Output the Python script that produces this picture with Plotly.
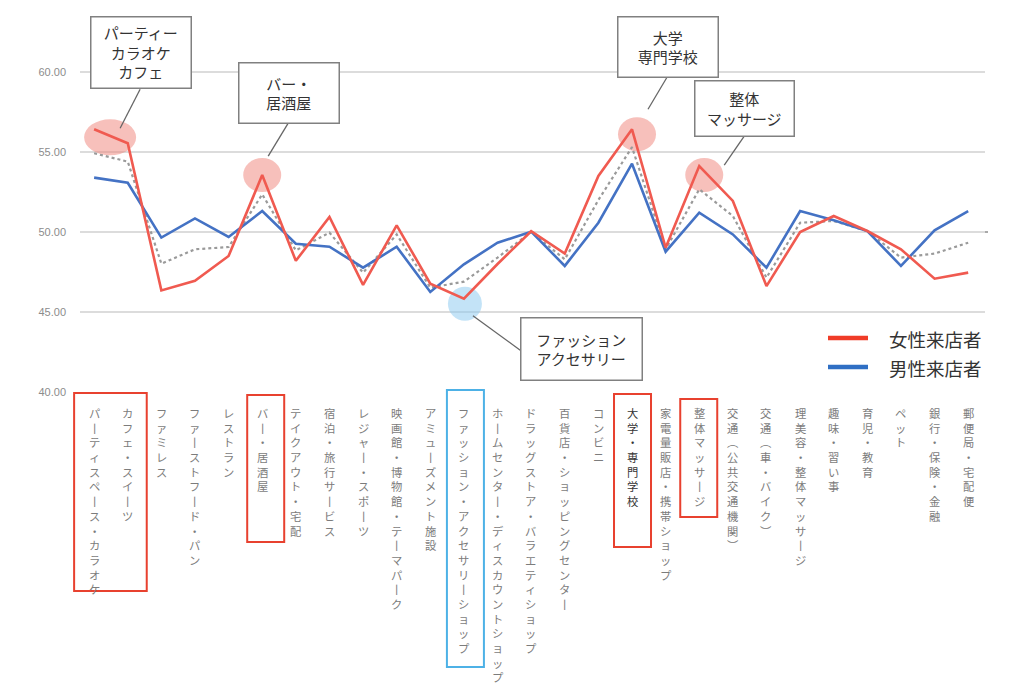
import plotly.graph_objects as go

# ---------------- data ----------------
categories = [
    "パーティスペース・カラオケ", "カフェ・スイーツ", "ファミレス", "ファーストフード・パン",
    "レストラン", "バー・居酒屋", "テイクアウト・宅配", "宿泊・旅行サービス",
    "レジャー・スポーツ", "映画館・博物館・テーマパーク", "アミューズメント施設",
    "ファッション・アクセサリーショップ", "ホームセンター・ディスカウントショップ",
    "ドラッグストア・バラエティショップ", "百貨店・ショッピングセンター", "コンビニ",
    "大学・専門学校", "家電量販店・携帯ショップ", "整体マッサージ", "交通（公共交通機関）",
    "交通（車・バイク）", "理美容・整体マッサージ", "趣味・習い事", "育児・教育",
    "ペット", "銀行・保険・金融", "郵便局・宅配便",
]
female = [56.42, 55.55, 46.35, 46.95, 48.50, 53.56, 48.20, 50.94, 46.70, 50.42,
          46.77, 45.83, 48.00, 50.05, 48.65, 53.50, 56.42, 49.02, 54.12, 51.94,
          46.62, 50.00, 51.00, 50.06, 48.92, 47.08, 47.46]
male = [53.40, 53.08, 49.65, 50.85, 49.69, 51.31, 49.27, 49.08, 47.77, 49.08,
        46.25, 47.98, 49.33, 50.02, 47.88, 50.58, 54.27, 48.77, 51.21, 49.85,
        47.77, 51.31, 50.73, 50.06, 47.88, 50.10, 51.31]
overall = [54.92, 54.40, 48.02, 48.92, 49.06, 52.35, 48.85, 49.96, 47.46, 49.85,
           46.52, 46.90, 48.40, 50.00, 48.29, 52.00, 55.30, 48.92, 52.67, 51.00,
           47.15, 50.58, 50.69, 50.06, 48.40, 48.65, 49.33]
y_ticks = [40, 45, 50, 55, 60]
series_names = ["女性来店者", "男性来店者"]

callouts = [
    {"idx": 0, "text": "パーティー<br>カラオケ<br>カフェ"},
    {"idx": 5, "text": "バー・<br>居酒屋"},
    {"idx": 16, "text": "大学<br>専門学校"},
    {"idx": 18, "text": "整体<br>マッサージ"},
    {"idx": 11, "text": "ファッション<br>アクセサリー"},
]

# ---------------- layout constants ----------------
W, H = 1024, 693
ML, MR, MT, MB = 80, 39, 8, 301
PW, PH = W - ML - MR, H - MT - MB
XMIN, XMAX = -0.42, 26.5
YMIN, YMAX = 40, 64

RED = "#F05A50"
BLUE = "#4472C4"
FONT_JP = "Noto Sans CJK JP"

x = list(range(len(categories)))


def xp(i, dx=0.0):
    return (i - XMIN) / (XMAX - XMIN) + dx / PW


def yp_px(py):
    return (MT + PH - py) / PH


fig = go.Figure()
fig.add_trace(go.Scatter(x=x, y=overall, mode="lines", name="全体",
                         line=dict(color="#9a9a9a", width=2.2, dash="dot"),
                         showlegend=False))
fig.add_trace(go.Scatter(x=x, y=male, mode="lines", name=series_names[1],
                         line=dict(color=BLUE, width=2.6), showlegend=False))
fig.add_trace(go.Scatter(x=x, y=female, mode="lines", name=series_names[0],
                         line=dict(color=RED, width=2.6), showlegend=False))

shapes = []
annotations = []

# 50 reference line
shapes.append(dict(type="line", xref="paper", yref="y", x0=0, x1=(988 - ML) / PW,
                   y0=50, y1=50, line=dict(color="#8c8c8c", width=1.6), layer="between"))

# highlight ellipses (pixel offsets relative to data points)
ell_specs = [
    (0, 16, -8, 26, 18, "rgba(240,130,120,0.5)"),
    (5, 0, 0, 19, 17, "rgba(240,130,120,0.5)"),
    (16, 5, -5, 19, 17, "rgba(240,130,120,0.5)"),
    (18, 5, -9, 19, 17, "rgba(240,130,120,0.5)"),
    (11, 1, -5, 17, 17, "rgba(135,200,240,0.5)"),
]
for idx, dx, dy, rx, ry, col in ell_specs:
    shapes.append(dict(type="circle", xref="x", yref="y",
                       xsizemode="pixel", ysizemode="pixel",
                       xanchor=idx, yanchor=female[idx],
                       x0=dx - rx, x1=dx + rx, y0=dy - ry, y1=dy + ry,
                       fillcolor=col, line=dict(width=0), layer="between"))

# callout boxes: (xshift, yshift, width, height) and connector (x0,y0,x1,y1) pixel offsets
box_specs = [
    (47, 77, 100, 71, (46, 40, 26, 1)),
    (27, 82, 100, 60, (26, 52, 6, 19)),
    (36, 82, 100, 60, (35, 52, 16, 20)),
    (45.5, 57.5, 99, 55, (45, 30, 25, 1)),
    (117.5, -50.3, 121, 62, (9, -17, 57, -52)),
]
BW, BP = 1.5, 1
for c, (xs, ys, bw, bh, con) in zip(callouts, box_specs):
    idx = c["idx"]
    shapes.append(dict(type="line", xref="x", yref="y",
                       xsizemode="pixel", ysizemode="pixel",
                       xanchor=idx, yanchor=female[idx],
                       x0=con[0], y0=con[1], x1=con[2], y1=con[3],
                       line=dict(color="#666666", width=1.3), layer="above"))
    annotations.append(dict(x=idx, y=female[idx], xref="x", yref="y",
                            xshift=xs, yshift=ys, showarrow=False,
                            xanchor="center", yanchor="middle",
                            text=c["text"], align="center",
                            width=bw - 2 * BP - BW, height=bh - 2 * BP - BW,
                            font=dict(family=FONT_JP, size=15, color="#333333"),
                            bgcolor="white", bordercolor="#808080",
                            borderwidth=BW, borderpad=BP))

# vertical category labels (one character per line)
VERT = {"ー": "丨", "（": "︵", "）": "︶"}
LAB_SIZE = 11.3
for i, lab in enumerate(categories):
    dark = (lab == "大学・専門学校")
    txt = "<br>".join(VERT.get(ch, ch) for ch in lab)
    annotations.append(dict(
        x=i, xref="x", y=0, yref="paper", xanchor="center", yanchor="top",
        yshift=-11, text=txt, showarrow=False, align="center",
        font=dict(family=FONT_JP, size=LAB_SIZE,
                  color="#333333" if dark else "#7c7c7c")))

# rectangles around highlighted category labels
rect_specs = [
    (0, 1, -20, 19, 393, 591, "#E8412F"),
    (5, 5, -15, 22, 395, 542, "#E8412F"),
    (11, 11, -17, 20, 390, 667, "#4DB1E6"),
    (16, 16, -18, 19, 394, 547, "#E8412F"),
    (18, 18, -19, 18, 399, 517, "#E8412F"),
]
for a, b, lpad, rpad, top, bot, col in rect_specs:
    shapes.append(dict(type="rect", xref="paper", yref="paper",
                       x0=xp(a, lpad), x1=xp(b, rpad), y0=yp_px(bot), y1=yp_px(top),
                       line=dict(color=col, width=2), fillcolor="rgba(0,0,0,0)"))

# manual legend
leg_items = [(series_names[0], "#F03C28", 338), (series_names[1], "#2F6FC4", 367)]
for name, col, py in leg_items:
    shapes.append(dict(type="line", xref="paper", yref="paper",
                       x0=(828 - ML) / PW, x1=(868 - ML) / PW,
                       y0=yp_px(py), y1=yp_px(py), line=dict(color=col, width=4.5)))
    annotations.append(dict(x=(887 - ML) / PW, y=yp_px(py + 1), xref="paper", yref="paper",
                            xanchor="left", yanchor="middle", showarrow=False, text=name,
                            font=dict(family=FONT_JP, size=18.5, color="#333333")))

fig.update_layout(
    width=W, height=H,
    margin=dict(l=ML, r=MR, t=MT, b=MB, pad=0),
    paper_bgcolor="white", plot_bgcolor="white",
    showlegend=False,
    xaxis=dict(range=[XMIN, XMAX], showgrid=False, zeroline=False,
               showticklabels=False, ticks="", showline=False),
    yaxis=dict(range=[YMIN, YMAX], tickvals=y_ticks, tickformat=".2f",
               showgrid=True, gridcolor="#dcdcdc", gridwidth=1.5,
               zeroline=False, showline=False, ticks="",
               ticklabelstandoff=13,
               tickfont=dict(family="Liberation Sans", size=11, color="#8c8c8c")),
    shapes=shapes,
    annotations=annotations,
)

fig.write_html("out.html")
